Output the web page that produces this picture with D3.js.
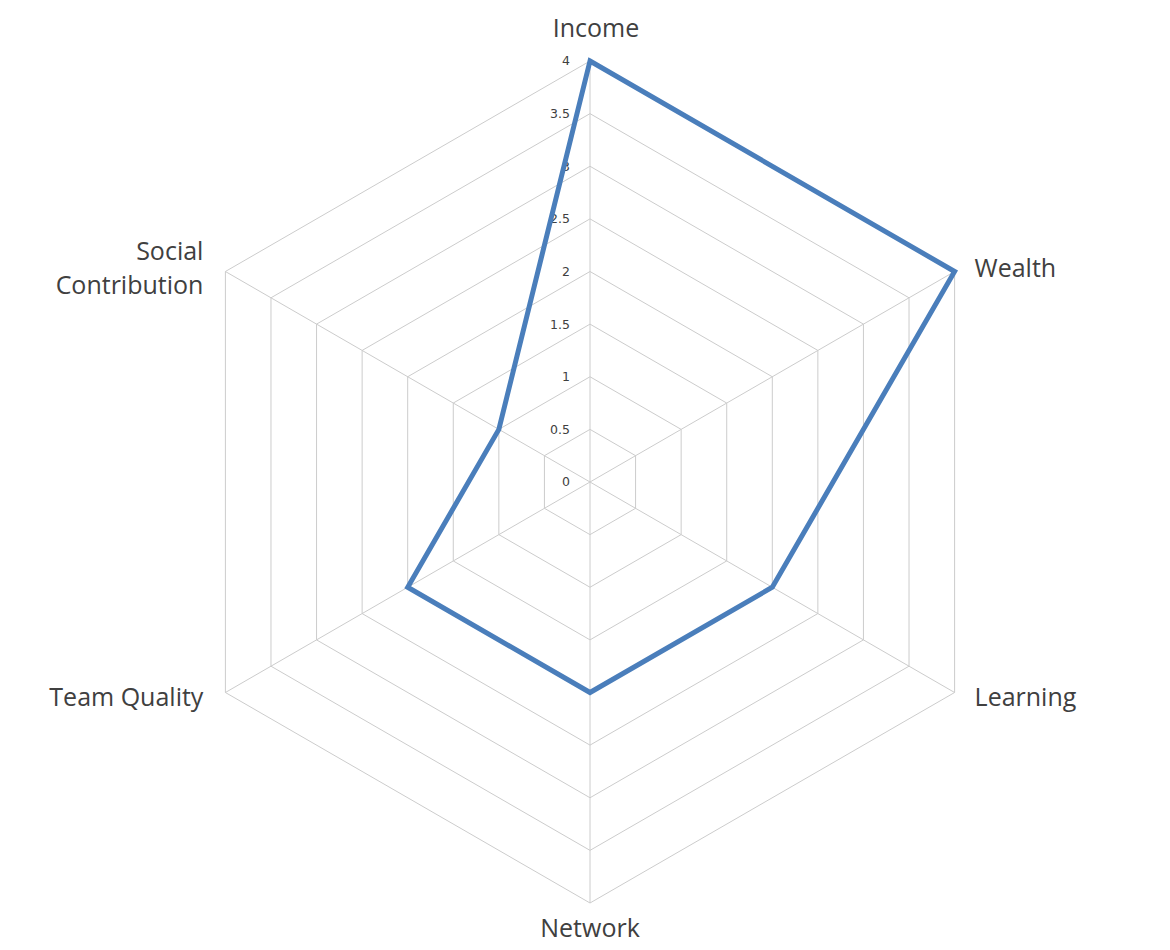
<!DOCTYPE html>
<html>
<head>
<meta charset="utf-8">
<script src="https://cdn.jsdelivr.net/npm/d3@7"></script>
<style>
  body { margin: 0; background: #fff; }
  .axisLabel { font-family: "Open Sans", sans-serif; font-size: 25px; fill: #404040; }
  .tickLabel { font-family: "DejaVu Sans", sans-serif; font-size: 12.5px; fill: #404040; }
</style>
</head>
<body>
<div id="radar"></div>
<script>
// chart data
var categories = ["Income", "Wealth", "Learning", "Network", "Team Quality", "Social Contribution"];
var values = [4, 4, 2, 2, 2, 1];
var tickValues = [0, 0.5, 1, 1.5, 2, 2.5, 3, 3.5, 4];

var svgWidth = 1170;
var svgHeight = 950;
var cx = 590, cy = 482, radius = 421;

var svg = d3.select("#radar")
    .append("svg")
    .attr("width", svgWidth)
    .attr("height", svgHeight);

var chartGroup = svg.append("g")
    .attr("transform", `translate(${cx}, ${cy})`);

var rScale = d3.scaleLinear().domain([0, 4]).range([0, radius]);
var angle = d3.scaleLinear().domain([0, categories.length]).range([0, 2 * Math.PI]);

function point(i, v) {
    var a = angle(i);
    return [rScale(v) * Math.sin(a), -rScale(v) * Math.cos(a)];
}

// grid rings
var ringLine = d3.line();
tickValues.slice(1).forEach(function(t) {
    var pts = categories.map((c, i) => point(i, t));
    chartGroup.append("path")
        .attr("d", ringLine(pts) + "Z")
        .attr("fill", "none")
        .attr("stroke", "#cccccc")
        .attr("stroke-width", 1);
});

// spokes
chartGroup.selectAll(".spoke")
    .data(categories)
    .enter()
    .append("line")
    .attr("class", "spoke")
    .attr("x1", 0).attr("y1", 0)
    .attr("x2", (d, i) => point(i, 4)[0])
    .attr("y2", (d, i) => point(i, 4)[1])
    .attr("stroke", "#cccccc")
    .attr("stroke-width", 1);

// tick labels
chartGroup.selectAll(".tickLabel")
    .data(tickValues)
    .enter()
    .append("text")
    .attr("class", "tickLabel")
    .attr("x", -20)
    .attr("y", d => -rScale(d))
    .attr("dy", "0.35em")
    .attr("text-anchor", "end")
    .text(d => d);

// series
var seriesPts = values.map((v, i) => point(i, v));
chartGroup.append("path")
    .attr("d", d3.line()(seriesPts) + "Z")
    .attr("fill", "none")
    .attr("stroke", "#4a7ebb")
    .attr("stroke-width", 5)
    .attr("stroke-linejoin", "miter");

// axis labels (long one wrapped in two lines)
var labelOffset = 20;
var lineGap = 34;
categories.forEach(function(c, i) {
    var p = point(i, 4);
    var a = angle(i);
    var x = p[0], y = p[1];
    var anchor = "middle";
    if (Math.sin(a) > 0.1) { anchor = "start"; x += labelOffset; }
    else if (Math.sin(a) < -0.1) { anchor = "end"; x -= labelOffset + 2; }
    var lines = c === "Social Contribution" ? ["Social", "Contribution"] : [c];
    if (anchor === "middle") {
        if (Math.cos(a) > 0) { y -= 24; x += 6; } else { y += 34; }
    } else {
        y += 9 - 8 * Math.cos(a) - (lines.length - 1) * lineGap / 2;
    }
    lines.forEach(function(l, k) {
        chartGroup.append("text")
            .attr("class", "axisLabel")
            .attr("text-anchor", anchor)
            .attr("x", x)
            .attr("y", y + k * lineGap)
            .text(l);
    });
});
</script>
</body>
</html>
